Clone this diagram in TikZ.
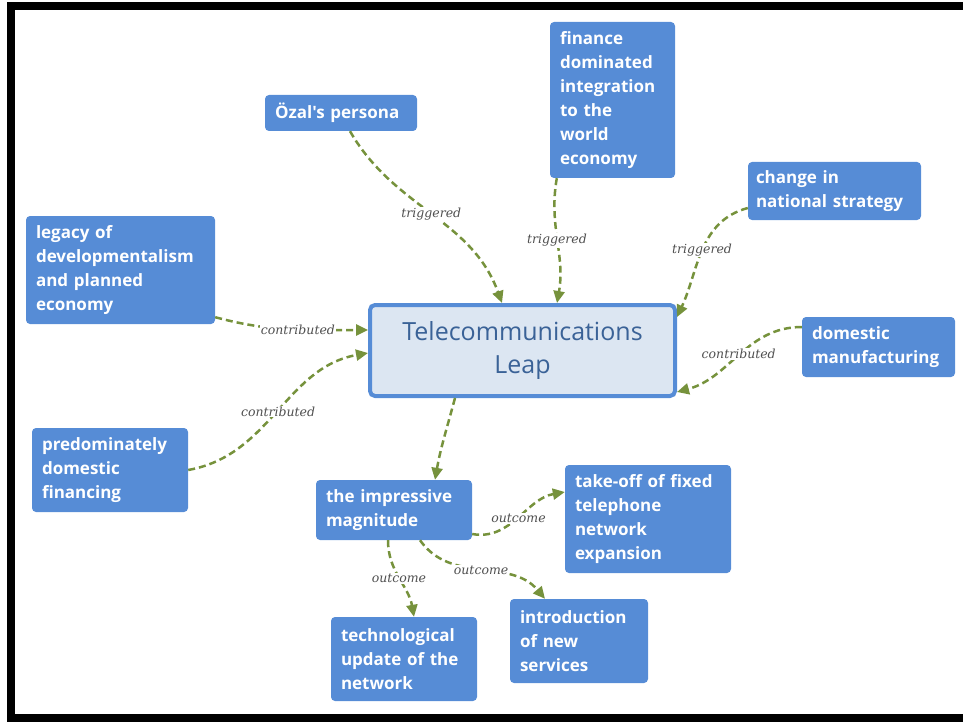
\documentclass[tikz,border=0pt]{standalone}
\usepackage{fontspec}
\newfontfamily\boxfont{Open Sans}
\newfontfamily\lblfont{DejaVu Serif}
\usetikzlibrary{arrows.meta}
\definecolor{conceptblue}{HTML}{568CD6}
\definecolor{leapfill}{HTML}{DCE6F2}
\definecolor{leaptext}{HTML}{3A6297}
\definecolor{linkgreen}{HTML}{76923C}
\definecolor{labelgray}{HTML}{505050}
\tikzset{
  concept/.style={fill=conceptblue,text=white,rounded corners=4pt,align=left,inner xsep=10pt,inner ysep=0pt,font=\boxfont\bfseries\fontsize{17}{24}\selectfont},
  leap/.style={draw=conceptblue,line width=4pt,fill=leapfill,text=leaptext,rounded corners=5pt,align=center,font=\boxfont\fontsize{25}{33}\selectfont},
  link/.style={draw=linkgreen,line width=2.5pt,dash pattern=on 7pt off 4pt,-{Triangle[length=12pt,width=11pt]}},
  lbl/.style={fill=white,text=labelgray,font=\lblfont\itshape\fontsize{12.5}{14}\selectfont,inner sep=1pt}
}
\begin{document}
\begin{tikzpicture}[x=1pt,y=-1pt]
      \useasboundingbox (0,0) rectangle (963,722);
      %cornice
      \draw[line width=8pt] (975,6.5) -- (10.5,6.5) -- (10.5,718) -- (975,718);
      %nodi
      \node[leap,minimum width=305pt,minimum height=91pt] (leap) at (522.5,350.5) {Telecommunications\\Leap};
      \node[concept,text width=132pt,minimum height=36pt] (ozal) at (341,113) {Özal's persona};
      \node[concept,text width=105pt,minimum height=156pt] (finance) at (612.5,100) {finance\\dominated\\integration\\to the\\world\\economy};
      \node[concept,inner xsep=8pt,text width=157pt,minimum height=58pt] (strategy) at (834.5,191) {change in\\national strategy};
      \node[concept,text width=169pt,minimum height=108pt] (legacy) at (120.5,270) {legacy of\\developmentalism\\and planned\\economy};
      \node[concept,text width=133pt,minimum height=60pt] (manufacturing) at (878.5,347) {domestic\\manufacturing};
      \node[concept,text width=136pt,minimum height=84pt] (financing) at (110,470) {predominately\\domestic\\financing};
      \node[concept,text width=136pt,minimum height=60pt] (magnitude) at (394,510) {the impressive\\magnitude};
      \node[concept,text width=146pt,minimum height=108pt] (takeoff) at (648,519) {take-off of fixed\\telephone\\network\\expansion};
      \node[concept,text width=118pt,minimum height=84pt] (services) at (579,641) {introduction\\of new\\services};
      \node[concept,text width=126pt,minimum height=84pt] (techupdate) at (404,659) {technological\\update of the\\network};
      %frecce
      \draw[link] ([xshift=9pt]ozal.south) to[out=-60,in=110] node[lbl] {triggered} ([xshift=-20.5pt]leap.north);
      \draw[link] ([xshift=7pt]finance.south west) to[out=-100,in=80] node[lbl] {triggered} ([xshift=34.5pt]leap.north);
      \draw[link] ([yshift=-17pt]strategy.west) to[out=195,in=65] node[lbl] {triggered} ([yshift=33.5pt]leap.east);
      \draw[link] ([yshift=7pt]legacy.south east) to[out=-15,in=180] node[lbl,pos=0.55] {contributed} ([yshift=20.5pt]leap.west);
      \draw[link] (financing.east) to[out=10,in=190] node[lbl] {contributed} ([yshift=-2.5pt]leap.west);
      \draw[link] ([yshift=20pt]manufacturing.west) to[out=180,in=15] node[lbl] {contributed} ([yshift=-41.5pt]leap.east);
      \draw[link] ([xshift=-67.5pt]leap.south) to[out=-105,in=80] ([xshift=41pt]magnitude.north);
      \draw[link] ([yshift=-24pt]magnitude.east) to[out=-10,in=190] node[lbl] {outcome} ([yshift=27pt]takeoff.west);
      \draw[link] ([xshift=26pt]magnitude.south) to[out=-55,in=130] node[lbl] {outcome} ([xshift=-34pt]services.north);
      \draw[link] ([xshift=-6pt]magnitude.south) to[out=-90,in=100] node[lbl] {outcome} ([xshift=10pt]techupdate.north);
    \end{tikzpicture}
\end{document}
